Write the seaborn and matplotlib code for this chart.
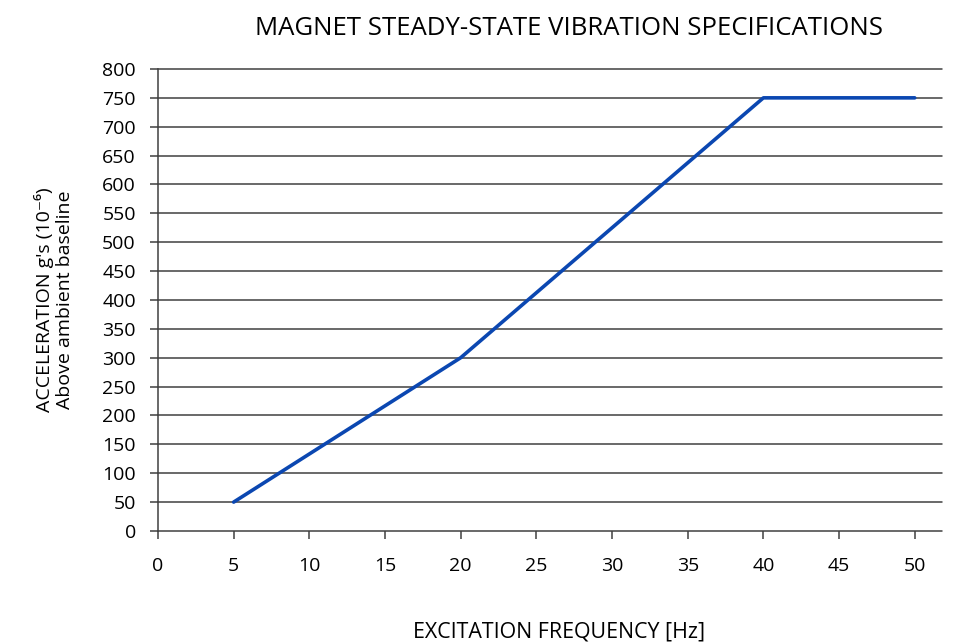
import matplotlib
matplotlib.use("Agg")
import matplotlib.pyplot as plt
import seaborn as sns
import pandas as pd

# 数据
freq_hz = [5, 20, 40, 50]
accel = [50, 300, 750, 750]
x_ticks = [0, 5, 10, 15, 20, 25, 30, 35, 40, 45, 50]
y_ticks = list(range(0, 801, 50))

sns.set_style("white")
plt.rcParams["font.family"] = ["Open Sans", "DejaVu Sans"]
plt.rcParams["text.color"] = "black"
plt.rcParams["axes.labelcolor"] = "black"

df = pd.DataFrame({"freq": freq_hz, "accel": accel})

fig = plt.figure(figsize=(9.54, 6.44), dpi=100)
ax = fig.add_axes([0.1656, 0.1755, 0.8218, 0.7174])

# 网格线（Excel 风格）
for y in y_ticks:
    ax.axhline(y, color="#404040", lw=1.1, zorder=1, clip_on=False)

sns.lineplot(data=df, x="freq", y="accel", ax=ax, color="#0b47b1", lw=2.6, zorder=3)

ax.set_xlim(0, 51.8)
ax.set_ylim(0, 800)
ax.set_xticks(x_ticks)
ax.set_yticks(y_ticks)
ax.tick_params(axis="both", labelsize=14, length=6, width=1.1, color="#404040",
               labelcolor="black", direction="out")
ax.tick_params(axis="y", pad=10)
ax.tick_params(axis="x", pad=13)
for s in ["top", "right", "bottom"]:
    ax.spines[s].set_visible(False)
ax.spines["left"].set_color("#404040")
ax.spines["left"].set_linewidth(1.1)
ax.xaxis.set_ticks_position("bottom")
ax.yaxis.set_ticks_position("left")

ax.set_xlabel("")
ax.set_ylabel("ACCELERATION g's (10\u207b\u2076)\nAbove ambient baseline", fontsize=14,
              labelpad=20, linespacing=1.15)
fig.text(0.586, 0.018, "EXCITATION FREQUENCY [Hz]", ha="center", va="center", fontsize=15.4)
fig.text(0.596, 0.956, "MAGNET STEADY-STATE VIBRATION SPECIFICATIONS", ha="center",
         va="center", fontsize=18.5)

fig.savefig("out.png", dpi=100)
